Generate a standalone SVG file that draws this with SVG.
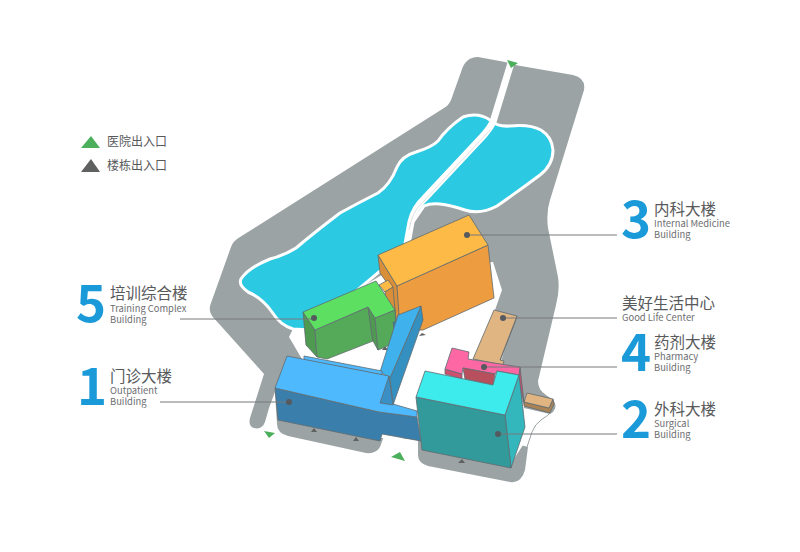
<svg xmlns="http://www.w3.org/2000/svg" width="800" height="552" viewBox="0 0 800 552">
<style>
text{font-family:"Noto Sans CJK SC","Noto Sans",sans-serif;fill:#58595b}
.n{font-weight:700;font-size:51px;fill:#1b9ad9}
.c{font-size:15.5px}
.e{font-size:9.4px;fill:#6d6e71}
.l{font-size:12px}
.b polygon,.b path{stroke:#5f6b70;stroke-width:.8;stroke-linejoin:round}
.ln{stroke:#77797b;stroke-width:1;fill:none}
.d{fill:#555a5e}
.g{fill:#4caf5c}
.k{fill:#5f6060}
</style>
<rect width="800" height="552" fill="#fff"/>
<g id="site">
<path fill="#9ca3a4" d="M461,72 Q465,57 478,57 L505,62 L515,65 L573,75 Q586,78 584,90 L550,200 Q546,212 548,228 L558,277 Q560,290 556,305 L538,381 Q538,390 546,395 L553,400 Q558,406 553,412 L550,414 L524,408 L521,445 L528,447 L525,470 Q521,484 510,482 L428,466 Q418,463 418,455 L418,440 L384,436 L380,447 Q376,454 366,453 L288,436 Q277,433 277,424 L275,392 L269,408 L265,422 Q262,430 254,428 Q248,426 250,418 L264,374 L212,316 Q208,310 211,303 L231,247 Q233,241 240,237 L444,108 Q449,105 451,100 Z"/>
<path fill="#fff" d="M293,329 L289,337 L306,366 L276,388 L279,418 L380,438 L420,438 L425,448 L510,465 L523,445 L524,405 L500,365 L514,318 L495,310 L502,290 L493,262 L390,270 L340,300 Z"/>
<path fill="none" stroke="#9ca3a4" stroke-width="1" d="M553,410 Q548,416 541,420 Q535,424 532,432 L527,447"/>
<path fill="#2cc9e3" stroke="#fff" stroke-width="3" d="M463,117 Q478,112 490,120 Q497,127 510,126 Q530,124 541,130 Q552,137 553,150 Q553,165 540,175 Q520,190 497,206 Q480,215 465,210 Q450,205 440,204 Q430,203 424,206 L411,225 L405,250 L310,330 L293,329 Q280,325 272,312 Q262,298 248,292 Q238,285 241,279 Q248,268 270,259 Q285,255 296,248 Q315,232 340,213 Q360,202 378,193 Q390,185 397,167 Q402,156 416,152 Q432,147 438,141 Q447,128 463,117 Z"/>
<path fill="none" stroke="#fff" stroke-width="7" d="M511,63 L493,122 Q490,128 484,135 L425,198 Q414,208 411,222 L407,244"/>
<path fill="none" stroke="#d5dadb" stroke-width=".8" d="M490,130 L422,203 Q412,212 409,230"/>
</g>
<g id="entrances">
<polygon class="g" points="507,60 518,63 511,68"/>
<polygon class="g" points="264,431 275,433 269,438"/>
<polygon class="g" points="391,457 400,452 405,461"/>
<polygon class="k" points="311,432 314,428 317,432"/>
<polygon class="k" points="353,441 356,437 359,441"/>
<polygon class="k" points="458,463 462,459 465,463"/>
<polygon class="k" points="382,350 385,346 388,350"/>
<polygon class="k" points="419,336 422,333 426,335"/>
</g>
<g id="building-3" class="b">
<polygon fill="#d98e3a" points="378,255 397,286 400,318 397,326 392,290 380,273"/>
<polygon fill="#ee9c40" points="397,286 488,245 494,298 423,330 400,330"/>
<polygon fill="#feba46" points="378,255 469,215 488,245 397,286"/>
<polygon fill="#feba46" points="379,285 388,280 393,287 385,292"/>
<polygon fill="#d98e3a" points="385,292 393,287 396,322 390,322"/>
</g>
<g id="building-5" class="b">
<polygon fill="#4d9a50" points="303,312 315,330 317,357 306,345"/>
<polygon fill="#55aa59" points="315,330 368,307 373,341 327,359 317,357"/>
<polygon fill="#4d9a50" points="368,307 375,318 378,350 373,341"/>
<polygon fill="#55aa59" points="375,318 395,310 397,342 378,350"/>
<polygon fill="#5ddf62" points="303,312 376,281 395,310 375,318 368,307 315,330"/>
</g>
<g id="building-1" class="b">
<polygon fill="#2f7fae" points="393,322 398,322 398,333 395,335"/>
<polygon fill="#3590c2" points="421,306 423,320 393,405 390,378"/>
<polygon fill="#3fb1ed" points="398,315 421,306 390,378 380,372"/>
<polygon fill="#4fb9fd" points="304,356 382,371 382,375 304,360"/>
<polygon fill="#3a7fab" points="275,388 379,412 417,417 421,441 382,434 380,441 278,420"/>
<polygon fill="#4fb9fd" points="287,356 389,376 393,404 417,411 417,417 379,412 275,388"/>
<polygon fill="#3a8fc4" points="389,376 380,403 393,405"/>
</g>
<g id="building-good-life" class="b">
<polygon fill="#a98255" points="517,316 515,322 500,358 500,361"/>
<polygon fill="#e0b582" points="494,310 517,316 500,360 504,361 503,365 473,359"/>
<polygon fill="#a98255" points="553,399 554,404 550,413 524,406 524,402 549,408"/>
<polygon fill="#e0b582" points="527,393 553,399 549,408 524,402"/>
</g>
<g id="building-4" class="b">
<polygon fill="#c85070" points="520,367 524,402 518,380"/>
<polygon fill="#cf4f6f" points="445,369 462,374 462,379 445,374"/>
<polygon fill="#fd67a4" points="452,348 469,352 468,359 520,367 519,375 497,371 495,374 463,368 462,374 445,369"/>
<polygon fill="#b84f5d" points="463,368 495,374 493,385 465,379"/>
</g>
<g id="building-2" class="b">
<polygon fill="#34b6bd" points="505,415 519,375 525,427 511,468"/>
<polygon fill="#339a9b" points="416,397 505,415 511,468 422,450"/>
<polygon fill="#3eebec" points="425,371 493,385 497,371 519,375 505,415 416,397"/>
</g>
<g id="connectors">
<path class="ln" d="M466,235H617M180,319H314M160,402H289M503,318H617M484,367H617M498,434H617"/>
<circle class="d" cx="467" cy="235" r="3"/>
<circle class="d" cx="314" cy="318" r="3"/>
<circle class="d" cx="289" cy="402" r="3"/>
<circle class="d" cx="503" cy="318" r="3"/>
<circle class="d" cx="484" cy="367" r="3"/>
<circle class="d" cx="498" cy="434" r="3"/>
</g>
<g id="legend">
<polygon class="g" points="81,148 91,136 100,148"/>
<polygon class="k" points="81,172 91,159 100,172"/>
<text class="l" x="107" y="146">医院出入口</text>
<text class="l" x="107" y="170">楼栋出入口</text>
</g>
<g id="label-5"><text class="n" x="76" y="322">5</text><text class="c" x="110" y="299">培训综合楼</text><text class="e" x="110" y="312">Training Complex</text><text class="e" x="110" y="323">Building</text></g>
<g id="label-1"><text class="n" x="77" y="405">1</text><text class="c" x="110" y="382">门诊大楼</text><text class="e" x="110" y="394">Outpatient</text><text class="e" x="110" y="405">Building</text></g>
<g id="label-3"><text class="n" x="621" y="238">3</text><text class="c" x="654" y="215">内科大楼</text><text class="e" x="654" y="227">Internal Medicine</text><text class="e" x="654" y="238">Building</text></g>
<g id="label-good-life"><text class="c" x="622" y="309">美好生活中心</text><text class="e" x="622" y="321">Good Life Center</text></g>
<g id="label-4"><text class="n" x="621" y="371">4</text><text class="c" x="654" y="348">药剂大楼</text><text class="e" x="654" y="360">Pharmacy</text><text class="e" x="654" y="371">Building</text></g>
<g id="label-2"><text class="n" x="621" y="438">2</text><text class="c" x="654" y="415">外科大楼</text><text class="e" x="654" y="427">Surgical</text><text class="e" x="654" y="438">Building</text></g>
</svg>
